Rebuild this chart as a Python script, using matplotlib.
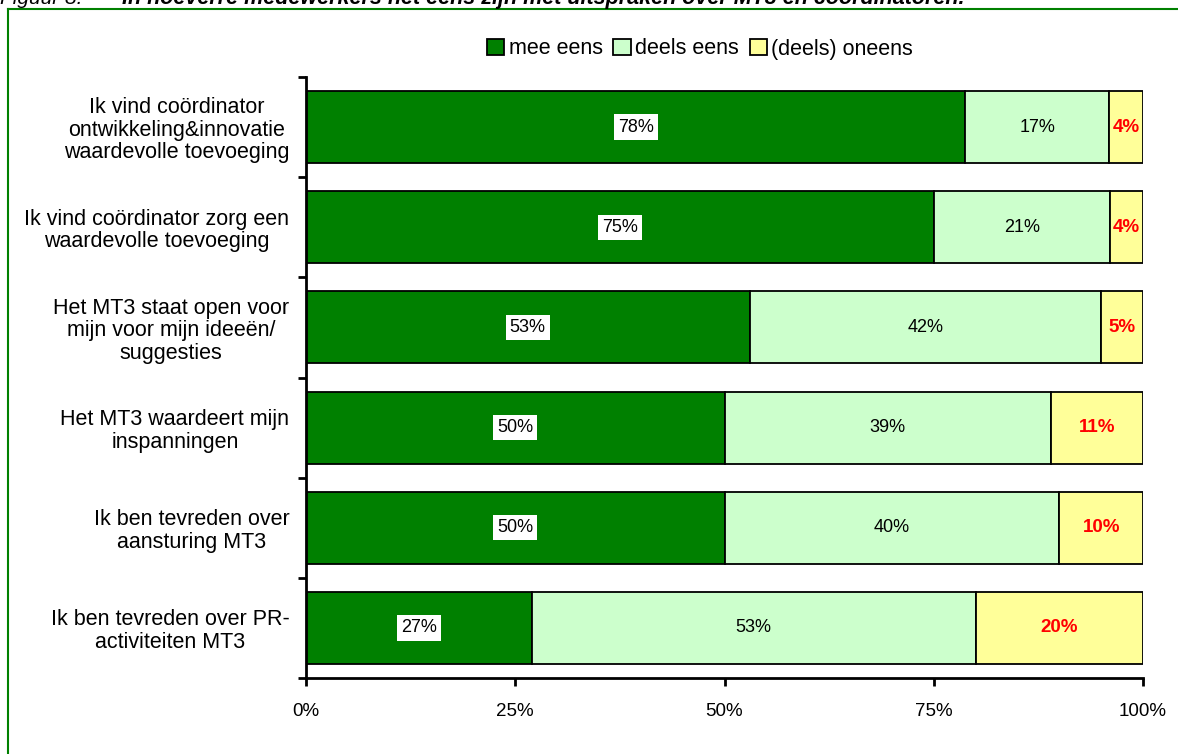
import numpy as np
import matplotlib.pyplot as plt

plt.rcParams['font.family'] = ['Liberation Sans', 'DejaVu Sans']

# data
stellingen = [
    'Ik vind coördinator\nontwikkeling&innovatie\nwaardevolle toevoeging',
    'Ik vind coördinator zorg een\nwaardevolle toevoeging',
    'Het MT3 staat open voor\nmijn voor mijn ideeën/\nsuggesties',
    'Het MT3 waardeert mijn\ninspanningen',
    'Ik ben tevreden over\naansturing MT3',
    'Ik ben tevreden over PR-\nactiviteiten MT3',
]
mee_eens = [78, 75, 53, 50, 50, 27]
deels_eens = [17, 21, 42, 39, 40, 53]
oneens = [4, 4, 5, 11, 10, 20]
reeksen = ['mee eens', 'deels eens', '(deels) oneens']
x_ticks = [0, 25, 50, 75, 100]

kleuren = ['#008000', '#CCFFCC', '#FFFF99']

fig = plt.figure(figsize=(11.78, 7.54), dpi=100)
ax = fig.add_axes([306 / 1178, 1 - 678 / 754, 837 / 1178, 601 / 754])

# kader en bijschrift (bovenkant valt buiten beeld)
fig.add_artist(plt.Line2D([8 / 1178, 8 / 1178], [0, 1 - 9 / 754], color='#008000', lw=1.5,
                          transform=fig.transFigure))
fig.add_artist(plt.Line2D([8 / 1178, 1], [1 - 9 / 754, 1 - 9 / 754], color='#008000', lw=1.5,
                          transform=fig.transFigure))
fig.text(0.0, 1 - 4 / 754, 'Figuur 8:', fontsize=15, style='italic', va='baseline', ha='left')
fig.text(122 / 1178, 1 - 4 / 754,
         'In hoeverre medewerkers het eens zijn met uitspraken over MT3 en coördinatoren.',
         fontsize=15.5, style='italic', weight='bold', va='baseline', ha='left')

data = np.array([mee_eens, deels_eens, oneens], dtype=float)
totaal = data.sum(axis=0)
pct = data / totaal * 100
y = np.arange(len(stellingen))

links = np.zeros(len(stellingen))
for i, naam in enumerate(reeksen):
    ax.barh(y, pct[i], left=links, height=0.72, color=kleuren[i], edgecolor='black',
            linewidth=1.3, label=naam)
    for j in range(len(stellingen)):
        cx = links[j] + pct[i][j] / 2
        tekst = f'{int(data[i][j])}%'
        if i == 0:
            ax.text(cx, y[j], tekst, ha='center', va='center', fontsize=13, color='black',
                    bbox=dict(facecolor='white', edgecolor='none', pad=3))
        elif i == 1:
            ax.text(cx, y[j], tekst, ha='center', va='center', fontsize=13, color='black')
        else:
            ax.text(cx, y[j], tekst, ha='center', va='center', fontsize=13.5, color='red',
                    weight='bold')
    links += pct[i]

ax.set_xlim(0, 100)
ax.set_ylim(len(stellingen) - 0.5, -0.5)
ax.set_xticks(x_ticks)
ax.set_xticklabels([f'{t}%' for t in x_ticks], fontsize=13.5)
ax.tick_params(axis='x', direction='out', length=6, width=2, pad=12)

ax.set_yticks(np.arange(len(stellingen) + 1) - 0.5)
ax.set_yticklabels([])
ax.tick_params(axis='y', which='major', direction='out', length=6, width=2)
ax.set_yticks(y, minor=True)
ax.set_yticklabels(stellingen, minor=True, fontsize=15.5, multialignment='center',
                   linespacing=1.1)
ax.tick_params(axis='y', which='minor', length=0, pad=12)

for s in ['top', 'right']:
    ax.spines[s].set_visible(False)
for s in ['left', 'bottom']:
    ax.spines[s].set_linewidth(2)

fig.legend(loc='center', bbox_to_anchor=(700 / 1178, 1 - 49 / 754), ncol=3, frameon=False,
           fontsize=15.5, handlelength=0.8, handleheight=0.8, handletextpad=0.2,
           columnspacing=0.5)

plt.savefig('out.png', dpi=100)
